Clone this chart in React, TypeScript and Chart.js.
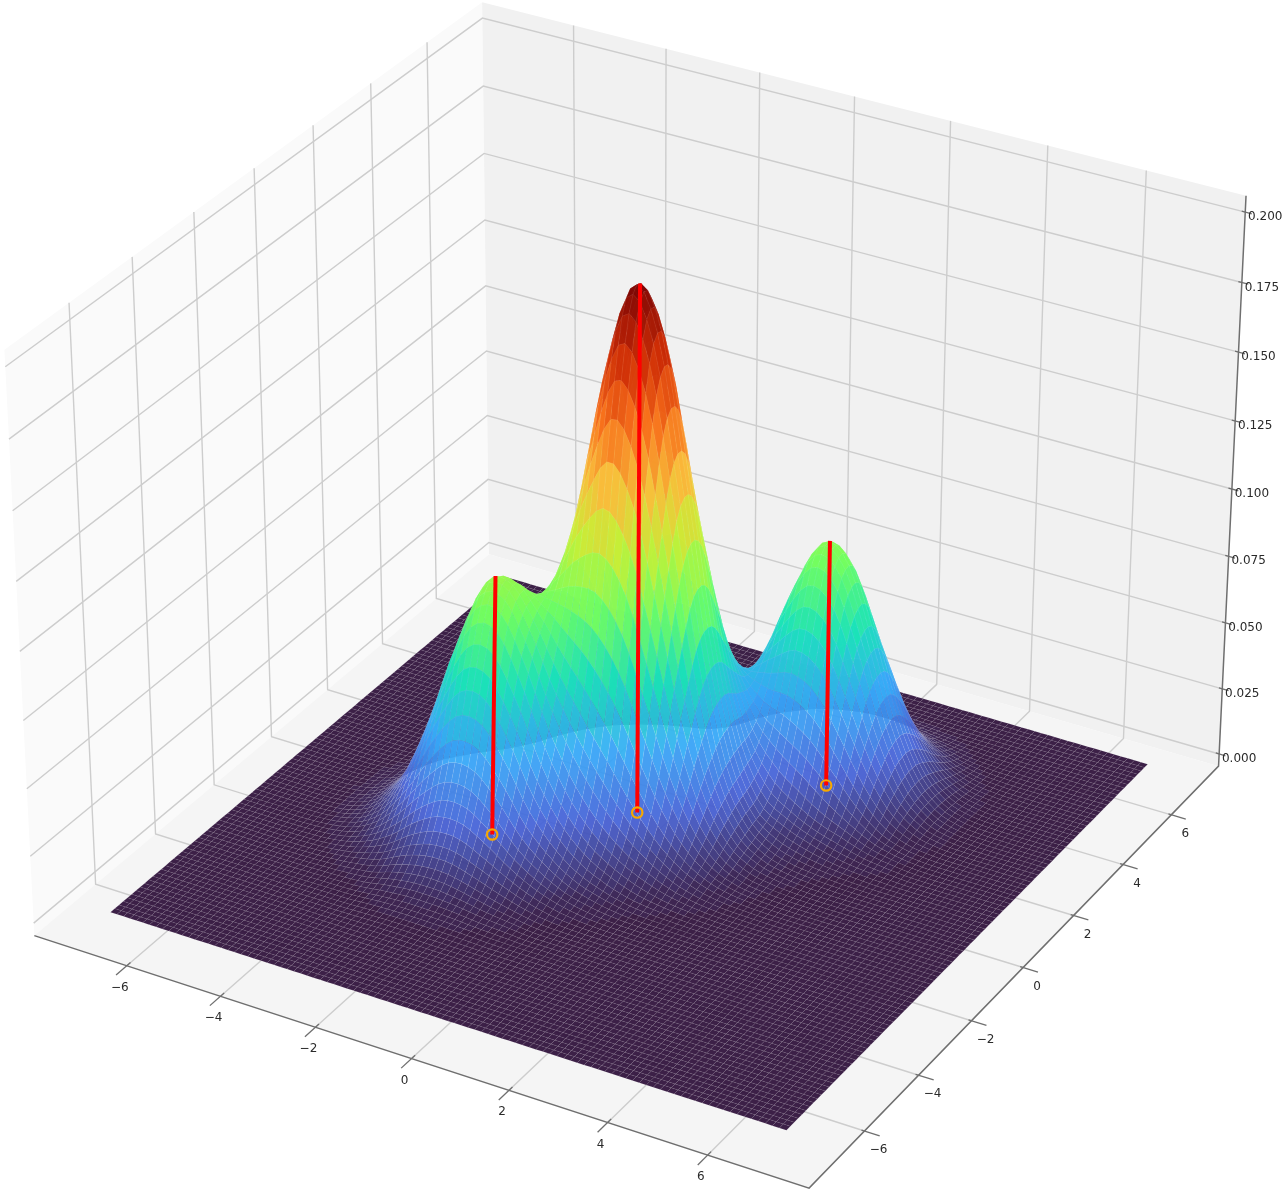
import React, { useEffect, useRef } from "react";
import { Chart, registerables } from "chart.js";

Chart.register(...registerables);

const W = 1284;
const H = 1198;

// ---- data ----
const xTicks = [-6, -4, -2, 0, 2, 4, 6];
const yTicks = [-6, -4, -2, 0, 2, 4, 6];
const zTicks = [0, 0.025, 0.05, 0.075, 0.1, 0.125, 0.15, 0.175, 0.2];
// circles on the plane, and the top end of each red line
const peakBaseX = [-2.37, -0.435, 2.14];
const peakBaseY = [-1.27, 0.73, 3.32];
const peakTopX = [-2.27, -0.39, 2.14];
const peakTopY = [-1.21, 0.756, 3.32];
const peakZ = [0.0964, 0.1937, 0.092];

// Surface heights (z x 1000), hand-estimated from the picture. Rows: y = -5 ... 6.5, columns: x = -6 ... 5.5, step 0.5.
const heightStep = 0.5;
const heightX0 = -6;
const heightY0 = -5;
const heightRows = [
  [0,0,0,0,0,0,.1,.3,.3,.1,0,0,0,0,0,0,0,0,0,0,0,0,0,0],
  [0,0,0,0,.1,.2,.7,1,1,.8,.5,.1,0,0,0,0,0,0,0,0,0,0,0,0],
  [0,0,0,.2,.4,.9,2.2,3,3,2.4,1.4,.8,.1,0,0,0,0,0,0,0,0,0,0,0],
  [0,0,.2,.6,1.5,3.1,6.5,8.5,8.5,6.5,4,2,.5,.1,0,0,0,0,0,0,0,0,0,0],
  [0,.1,.4,1.5,4.1,8.7,15.5,20,20,15.5,10,5.5,2.6,1,.3,.1,0,0,0,0,0,0,0,0],
  [0,.2,1,3.3,8.9,18.8,30.7,39.1,38.8,30.3,18.7,11,5.6,2.8,1.1,.4,.2,0,0,0,0,0,0,0],
  [.1,.4,1.6,5.6,15,31.6,51.5,65.8,65.8,52.2,33.5,20,11.5,6.5,3.2,1.5,.6,.2,0,0,0,0,0,0],
  [.1,.5,2.1,7.3,19.6,41.4,67.8,87.2,88.8,73.5,51.7,35,23,14.5,8.5,4.2,1.8,.6,.2,0,0,0,0,0],
  [.1,.5,2.2,7.5,20.1,42.5,70,91.8,94,84,71,59.1,46,31,18,9,3.8,1.4,.5,.1,0,0,0,0],
  [.1,.4,1.7,5.9,16,34.2,57.5,75,83,90,97,98,85.7,61,35,16.5,6.5,2.2,.8,.2,0,0,0,0],
  [0,.2,1.1,3.7,10.1,21.9,37,55,73,100,132,151.7,136.3,97.5,55,25.5,10,3.8,1.5,.5,.1,0,0,0],
  [0,.1,.5,1.8,5,11.5,22.4,38,64,108,160,189,174,125.3,71.2,31.8,13,5.5,2.5,1.2,.5,.1,0,0],
  [0,0,.2,.7,2.1,5.2,12.3,27.9,54,100,155,187.4,174,126.4,73.2,34.8,15.3,9,5.5,3,1.4,.6,.1,0],
  [0,0,.1,.2,.7,2.3,6.6,18,42,80.3,121.9,145.4,136.2,101.3,62.6,35.9,22.8,15.8,10.2,6.5,3,1.2,.2,0],
  [0,0,0,.1,.3,1,3.3,10.1,24.7,48.3,74,89,85,67.6,50.8,42.6,39.6,33.9,23.5,12.6,5.1,1.6,.4,.1],
  [0,0,0,0,.1,.3,1.5,4.6,11.6,22.8,35.3,43.2,44,42.6,46.8,57.4,64.9,59.5,42.1,22.7,9.3,2.9,.7,.1],
  [0,0,0,0,0,.1,.5,1.7,4.2,8.4,13.2,17.2,21.2,29.9,48.1,71.7,86.6,81,57.6,31.1,12.7,4,.9,.2],
  [0,0,0,0,0,0,.2,.5,1.2,2.4,4.1,6.4,11.3,23.3,45.5,72.5,89.3,83.9,59.8,32.3,13.2,4.1,1,.2],
  [0,0,0,0,0,0,0,.1,.3,.5,1.1,2.5,6.5,16.7,35,56.8,70.3,66.1,47.1,25.5,10.4,3.2,.8,.1],
  [0,0,0,0,0,0,0,0,.1,.1,.3,1.1,3.5,9.7,20.8,33.9,42,39.6,28.2,15.3,6.2,1.9,.5,.1],
  [0,0,0,0,0,0,0,0,0,0,.1,.4,1.5,4.3,9.4,15.4,19.1,18,12.8,6.9,2.8,.9,.2,0],
  [0,0,0,0,0,0,0,0,0,0,0,.1,.5,1.5,3.2,5.3,6.5,6.1,4.4,2.4,1,.3,.1,0],
  [0,0,0,0,0,0,0,0,0,0,0,0,.1,.4,.8,1.4,1.7,1.6,1.1,.6,.3,.1,0,0],
  [0,0,0,0,0,0,0,0,0,0,0,0,0,.1,.2,.3,.3,.3,.2,.1,0,0,0,0],
];

// ---- surface extent / axis box ----
const meshXMin = -7;
const meshYMin = -7;
const meshStep = 0.14;
const meshCells = 100;
const B = 8;
const zLo = -0.0047;
const zHi = 0.2058;
const zMaxColor = 0.193;

// turbo colour stops
const turbo = ["#30123B", "#4662D7", "#36AAF9", "#1AE4B6", "#72FE5E", "#C8EF34", "#FABA39", "#F66B19", "#CB2A04", "#7A0403"].map((h) => [
  parseInt(h.slice(1, 3), 16),
  parseInt(h.slice(3, 5), 16),
  parseInt(h.slice(5, 7), 16),
]);
const colorBands = 44;
const surfaceAlpha = 0.94;

function turboColor(z: number) {
  let t = Math.max(0, Math.min(1, z / zMaxColor));
  t = Math.round(t * colorBands * 3) / (colorBands * 3);
  const f = t * (turbo.length - 1);
  const i = Math.min(turbo.length - 2, Math.floor(f));
  const k = f - i;
  const c = [0, 1, 2].map((n) => Math.round(turbo[i][n] + (turbo[i + 1][n] - turbo[i][n]) * k));
  return `rgba(${c[0]},${c[1]},${c[2]},${surfaceAlpha})`;
}

// ---- camera: a projective matrix solved from where the box's reference marks sit in the picture ----
const anchors: number[][] = [
  [-B, -B, zLo, 33, 936],
  [B, -B, zLo, 808, 1188],
  [B, B, zLo, 1219, 767],
  [-B, B, zLo, 489, 555],
  [B, B, 0, 1218, 754],
  [B, B, 0.2, 1245, 212],
  [-B, B, 0, 488, 543],
  [-B, B, 0.2, 483, 18],
  [-B, -B, 0, 33, 923],
  [-B, -B, 0.2, 5, 367],
  [-6, -B, zLo, 128, 965],
  [-4, -B, zLo, 222, 995],
  [6, -B, zLo, 710, 1157],
  [B, -6, zLo, 863, 1131],
  [B, -4, zLo, 918, 1075],
  [B, 6, zLo, 1173, 813],
];

function solveCamera() {
  const n = 11;
  let sol: number[] = new Array(n).fill(0);
  for (let iter = 0; iter < 10; iter++) {
    const A = Array.from({ length: n }, () => new Array(n + 1).fill(0));
    const add = (r: number[], b: number, wt: number) => {
      for (let i = 0; i < n; i++) {
        for (let j = 0; j < n; j++) A[i][j] += wt * r[i] * r[j];
        A[i][n] += wt * r[i] * b;
      }
    };
    for (const [X, Y, Z, u, v] of anchors) {
      const x = X / B, y = Y / B, z = Z / 0.2, a = u / 1000, b = v / 1000;
      const w = sol[8] * x + sol[9] * y + sol[10] * z + 1;
      const wt = 1 / (w * w);
      add([x, y, z, 1, 0, 0, 0, 0, -a * x, -a * y, -a * z], a, wt);
      add([0, 0, 0, 0, x, y, z, 1, -b * x, -b * y, -b * z], b, wt);
    }
    for (let c = 0; c < n; c++) {
      let p = c;
      for (let r = c + 1; r < n; r++) if (Math.abs(A[r][c]) > Math.abs(A[p][c])) p = r;
      [A[c], A[p]] = [A[p], A[c]];
      for (let r = 0; r < n; r++) {
        if (r === c) continue;
        const f = A[r][c] / A[c][c];
        for (let k = c; k <= n; k++) A[r][k] -= f * A[c][k];
      }
    }
    sol = A.map((row, i) => row[n] / row[i]);
  }
  return sol;
}
const cam = solveCamera();

function project(X: number, Y: number, Z: number) {
  const x = X / B, y = Y / B, z = Z / 0.2;
  const w = cam[8] * x + cam[9] * y + cam[10] * z + 1;
  return {
    x: (1000 * (cam[0] * x + cam[1] * y + cam[2] * z + cam[3])) / w,
    y: (1000 * (cam[4] * x + cam[5] * y + cam[6] * z + cam[7])) / w,
  };
}

// draw-time smoothing between table nodes (same idea as a line's tension)
function cr(p0: number, p1: number, p2: number, p3: number, t: number) {
  return 0.5 * (2 * p1 + (p2 - p0) * t + (2 * p0 - 5 * p1 + 4 * p2 - p3) * t * t + (3 * p1 - p0 - 3 * p2 + p3) * t * t * t);
}
function height(x: number, y: number) {
  const u = (x - heightX0) / heightStep;
  const v = (y - heightY0) / heightStep;
  const i = Math.floor(u), j = Math.floor(v);
  const tu = u - i, tv = v - j;
  const at = (a: number, b: number) => (heightRows[b] && heightRows[b][a] !== undefined ? heightRows[b][a] : 0);
  const rows = [-1, 0, 1, 2].map((d) => cr(at(i - 1, j + d), at(i, j + d), at(i + 1, j + d), at(i + 2, j + d), tu));
  return Math.max(0, cr(rows[0], rows[1], rows[2], rows[3], tv)) / 1000;
}

function buildMesh() {
  const pts: any[] = [];
  for (let j = 0; j <= meshCells; j++) {
    for (let i = 0; i <= meshCells; i++) {
      const X = meshXMin + i * meshStep;
      const Y = meshYMin + j * meshStep;
      const Z = height(X, Y);
      pts.push({ ...project(X, Y, Z), X, Y, Z });
    }
  }
  return pts;
}

function polyline(pts: number[][]) {
  return pts.map(([a, b, c]) => project(a, b, c));
}

const gridSets: any[] = [];
const lineSet = (data: any[], color: string, width: number, order: number) => ({
  type: "scatter" as const,
  data,
  showLine: true,
  borderColor: color,
  borderWidth: width,
  pointRadius: 0,
  order,
});
xTicks.forEach((t) => gridSets.push(lineSet(polyline([[t, -B, zLo], [t, B, zLo], [t, B, zHi]]), "#cdcdcd", 1.4, 10)));
yTicks.forEach((t) => gridSets.push(lineSet(polyline([[B, t, zLo], [-B, t, zLo], [-B, t, zHi]]), "#cdcdcd", 1.4, 10)));
zTicks.forEach((t) => gridSets.push(lineSet(polyline([[-B, -B, t], [-B, B, t], [B, B, t]]), "#cdcdcd", 1.4, 10)));
const axisSets = [
  lineSet(polyline([[-B, -B, zLo], [B, -B, zLo], [B, B, zLo], [B, B, zHi]]), "#6f6f6f", 1.5, 9),
  ...xTicks.map((t) => lineSet(polyline([[t, -8.35, zLo], [t, -7.88, zLo]]), "#6f6f6f", 1.3, 9)),
  ...yTicks.map((t) => lineSet(polyline([[7.94, t, zLo], [8.3, t, zLo]]), "#6f6f6f", 1.3, 9)),
  ...zTicks.map((t) => lineSet(polyline([[7.93, B, t], [8.13, B, t]]), "#6f6f6f", 1.3, 9)),
];

const fmtTick = (v: number) => (v < 0 ? "\u2212" + Math.abs(v) : String(v));

const boxPlugin = {
  id: "box3d",
  beforeDatasetsDraw(chart: any) {
    const { ctx, scales } = chart;
    const poly = (corners: number[][], fill: string) => {
      ctx.beginPath();
      corners.forEach(([a, b, c], i) => {
        const p = project(a, b, c);
        const px = scales.x.getPixelForValue(p.x), py = scales.y.getPixelForValue(p.y);
        if (i === 0) ctx.moveTo(px, py);
        else ctx.lineTo(px, py);
      });
      ctx.closePath();
      ctx.fillStyle = fill;
      ctx.fill();
    };
    poly([[-B, -B, zLo], [-B, B, zLo], [-B, B, zHi], [-B, -B, zHi]], "#fafafa");
    poly([[-B, B, zLo], [B, B, zLo], [B, B, zHi], [-B, B, zHi]], "#f1f1f1");
    poly([[-B, -B, zLo], [B, -B, zLo], [B, B, zLo], [-B, B, zLo]], "#f5f5f5");
  },
  afterDatasetDraw(chart: any, args: any) {
    const ds = chart.data.datasets[args.index];
    if (ds.label !== "surface") return;
    const { ctx, scales } = chart;
    const nodes = ds.data;
    const side = meshCells + 1;
    const cells: any[] = [];
    for (let j = 0; j < meshCells; j++) {
      for (let i = 0; i < meshCells; i++) {
        const a = nodes[j * side + i], b = nodes[j * side + i + 1], c = nodes[(j + 1) * side + i + 1], d = nodes[(j + 1) * side + i];
        const mx = (a.X + c.X) / 2, my = (a.Y + c.Y) / 2;
        const mz = (a.Z + b.Z + c.Z + d.Z) / 4;
        cells.push({ q: [a, b, c, d], mz, depth: 0.5 * mx - 0.866 * my + 31.6 * mz });
      }
    }
    cells.sort((p, q) => p.depth - q.depth);
    ctx.save();
    ctx.lineWidth = 0.5;
    ctx.strokeStyle = "rgba(255,255,255,0.1)";
    ctx.lineJoin = "round";
    for (const cell of cells) {
      ctx.beginPath();
      cell.q.forEach((n: any, i: number) => {
        const px = scales.x.getPixelForValue(n.x), py = scales.y.getPixelForValue(n.y);
        if (i === 0) ctx.moveTo(px, py);
        else ctx.lineTo(px, py);
      });
      ctx.closePath();
      ctx.fillStyle = turboColor(cell.mz);
      ctx.fill();
      ctx.stroke();
    }
    ctx.restore();
  },
  afterDatasetsDraw(chart: any) {
    const { ctx, scales } = chart;
    ctx.save();
    ctx.font = "12px 'DejaVu Sans'";
    ctx.fillStyle = "#2a2a2a";
    ctx.textAlign = "center";
    ctx.textBaseline = "middle";
    const label = (text: string, p: any, dx: number, dy: number) =>
      ctx.fillText(text, scales.x.getPixelForValue(p.x) + dx, scales.y.getPixelForValue(p.y) + dy);
    xTicks.forEach((t) => label(fmtTick(t), project(t, -B, zLo), -7, 22));
    yTicks.forEach((t) => label(fmtTick(t), project(B, t, zLo), 14, 19));
    zTicks.forEach((t) => label(t.toFixed(3), project(B, B, t), 20, 5));
    ctx.restore();
  },
};

export default function App() {
  const ref = useRef<HTMLCanvasElement | null>(null);
  useEffect(() => {
    const chart = new Chart(ref.current as HTMLCanvasElement, {
      type: "scatter",
      data: {
        datasets: [
          ...gridSets,
          ...axisSets,
          { label: "surface", data: buildMesh(), pointRadius: 0, showLine: false, order: 5 },
          ...peakZ.map((z, i) => lineSet(polyline([[peakBaseX[i], peakBaseY[i], 0], [peakTopX[i], peakTopY[i], z]]), "#ff0000", 4, 2)),
          {
            label: "peaks",
            data: peakBaseX.map((x, i) => project(x, peakBaseY[i], 0)),
            pointRadius: 5.2,
            pointBorderWidth: 2.2,
            pointBackgroundColor: "rgba(0,0,0,0)",
            pointBorderColor: "#f7a800",
            order: 1,
          },
        ],
      },
      options: {
        responsive: false,
        animation: false,
        events: [],
        layout: { padding: 0, autoPadding: false },
        plugins: { legend: { display: false }, tooltip: { enabled: false } },
        scales: {
          x: { type: "linear", min: 0, max: W, display: false },
          y: { type: "linear", min: 0, max: H, reverse: true, display: false },
        },
      },
      plugins: [boxPlugin],
    } as any);
    return () => chart.destroy();
  }, []);
  return (
    <div style={{ position: "absolute", left: 0, top: 0, width: W, height: H, background: "#fff" }}>
      <canvas ref={ref} width={W} height={H} style={{ display: "block" }} />
    </div>
  );
}
